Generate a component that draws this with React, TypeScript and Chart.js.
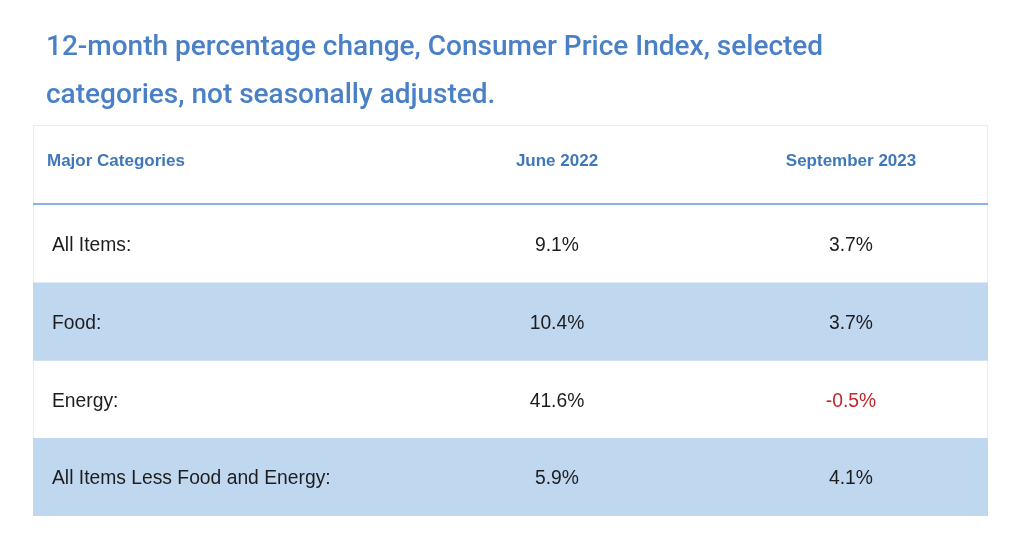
import React, { useEffect, useRef } from "react";
import { Chart, registerables } from "chart.js";

Chart.register(...registerables);

const titleLines = [
  "12-month percentage change, Consumer Price Index, selected",
  "categories, not seasonally adjusted.",
];
const columnHeaders = ["Major Categories", "June 2022", "September 2023"];
const categories = [
  "All Items:",
  "Food:",
  "Energy:",
  "All Items Less Food and Energy:",
];
const june2022 = [9.1, 10.4, 41.6, 5.9];
const september2023 = [3.7, 3.7, -0.5, 4.1];

const W = 1018;
const H = 552;
const BOX_L = 33;
const BOX_R = 988;
const BOX_T = 125;
const HEAD_B = 205;
const BOX_B = 516;
const COL1 = 557;
const COL2 = 851;

const TITLE_COLOR = "#4a80c6";
const HEAD_COLOR = "#3e78ba";
const BAND = "#c0d7f0";
const TEXT = "#1d1d1d";
const NEG = "#c0272d";

const fmt = (v: number) => v.toFixed(1) + "%";

const tablePlugin = {
  id: "tableText",
  beforeDatasetsDraw(chart: any) {
    const ctx = chart.ctx;
    ctx.save();
    ctx.strokeStyle = "#ececec";
    ctx.lineWidth = 1;
    ctx.strokeRect(BOX_L + 0.5, BOX_T + 0.5, BOX_R - BOX_L - 1, BOX_B - BOX_T - 1);
    ctx.restore();
  },
  afterDatasetsDraw(chart: any) {
    const ctx = chart.ctx;
    const y = chart.scales.y;
    ctx.save();
    // title
    ctx.fillStyle = TITLE_COLOR;
    ctx.font = "500 28px Roboto";
    ctx.textBaseline = "middle";
    ctx.textAlign = "left";
    titleLines.forEach((t, i) => ctx.fillText(t, 46, 48 + i * 48));

    // header
    ctx.fillStyle = HEAD_COLOR;
    ctx.font = "bold 17px 'Liberation Sans'";
    ctx.textAlign = "left";
    ctx.fillText(columnHeaders[0], 47, 161);
    ctx.textAlign = "center";
    ctx.fillText(columnHeaders[1], COL1, 161);
    ctx.fillText(columnHeaders[2], COL2, 161);

    // header rule
    ctx.fillStyle = "#8ab0f0";
    ctx.fillRect(BOX_L, HEAD_B - 2, BOX_R - BOX_L, 2);

    // rows
    ctx.font = "19.3px 'Liberation Sans'";
    categories.forEach((c, i) => {
      const py = y.getPixelForValue(i) + 2;
      ctx.fillStyle = TEXT;
      ctx.textAlign = "left";
      ctx.fillText(c, 52, py);
      ctx.textAlign = "center";
      ctx.fillStyle = june2022[i] < 0 ? NEG : TEXT;
      ctx.fillText(fmt(june2022[i]), COL1, py);
      ctx.fillStyle = september2023[i] < 0 ? NEG : TEXT;
      ctx.fillText(fmt(september2023[i]), COL2, py);
    });
    ctx.restore();
  },
};

export default function App() {
  const ref = useRef<HTMLCanvasElement>(null);
  useEffect(() => {
    if (!ref.current) return;
    const chart = new Chart(ref.current, {
      type: "bar",
      data: {
        labels: categories,
        datasets: [
          {
            data: categories.map((_, i) => (i % 2 === 1 ? [0, 1] : null)) as any,
            backgroundColor: BAND,
            borderWidth: 0,
            barPercentage: 1,
            categoryPercentage: 1,
          },
        ],
      },
      options: {
        indexAxis: "y",
        responsive: false,
        animation: false,
        events: [],
        layout: {
          padding: { left: BOX_L, right: W - BOX_R, top: HEAD_B, bottom: H - BOX_B },
        },
        scales: {
          x: { display: false, min: 0, max: 1 },
          y: { display: false },
        },
        plugins: {
          legend: { display: false },
          tooltip: { enabled: false },
          title: { display: false },
        },
      },
      plugins: [tablePlugin],
    });
    return () => chart.destroy();
  }, []);
  return (
    <div style={{ position: "fixed", left: 0, top: 0, width: W, height: H, background: "#fff" }}>
      <canvas ref={ref} width={W} height={H} style={{ width: W, height: H }} />
    </div>
  );
}
